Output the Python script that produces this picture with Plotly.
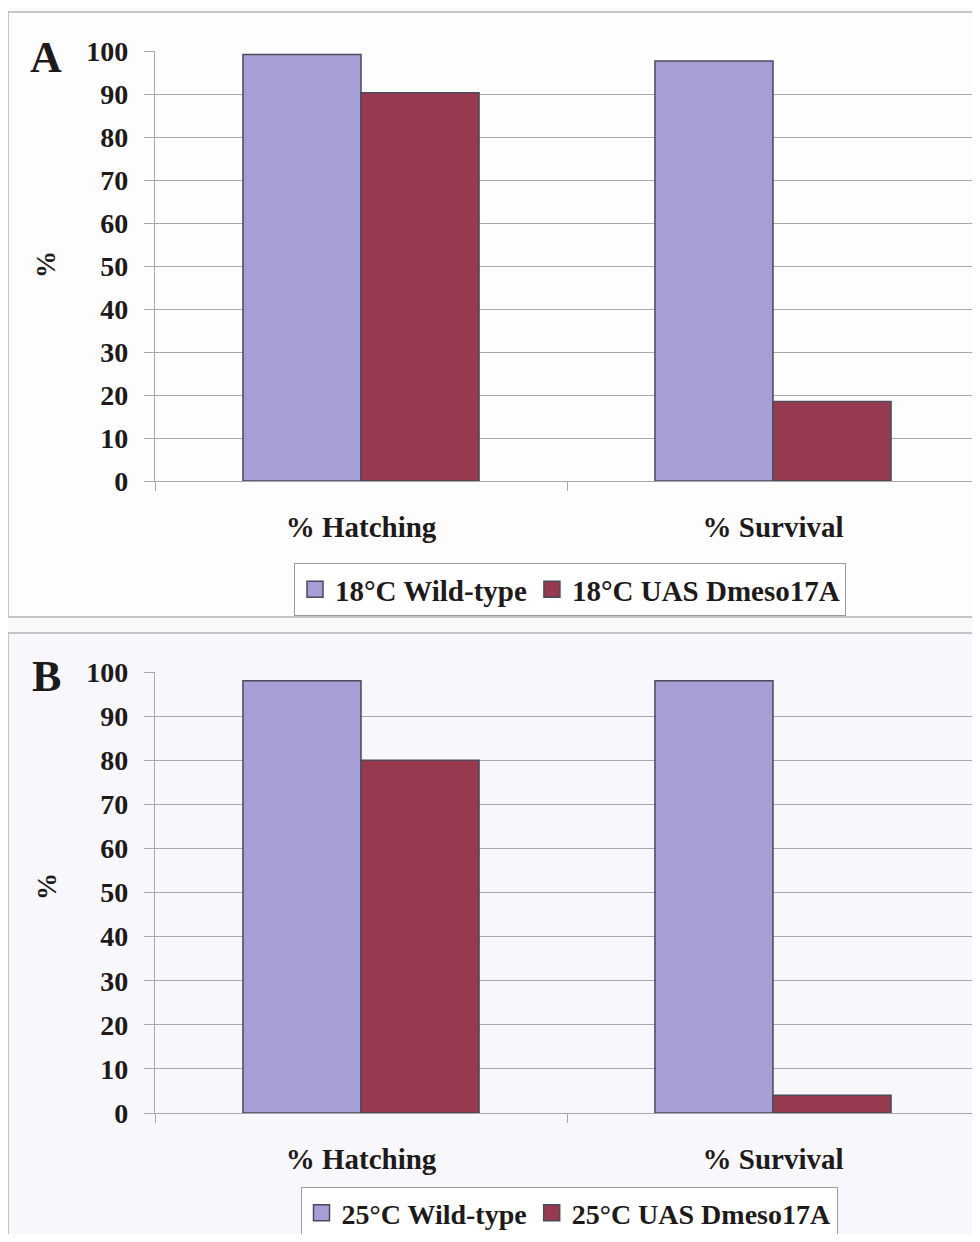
import plotly.graph_objects as go

# ---- data ----
categories = ["% Hatching", "% Survival"]
wt_18 = [99.2, 97.7]
uas_18 = [90.3, 18.5]
wt_25 = [98.0, 98.0]
uas_25 = [80.0, 4.0]
y_ticks = list(range(0, 101, 10))
names_A = ["18°C Wild-type", "18°C UAS Dmeso17A"]
names_B = ["25°C Wild-type", "25°C UAS Dmeso17A"]

# page body has an 8px default margin; figure sized so the page fits 980x1242
OFF = 8
W, H = 972, 1226


def px(x):
    return (x - OFF) / W


def py(y):
    return 1 - (y - OFF) / H


WT_COLOR = "#a69fd6"
UAS_COLOR = "#983a4f"
EDGE = "#4a4a5c"
GRID = "#a8a8a8"
FONT = "Liberation Serif"
TXT = "#1e1a1a"

fig = go.Figure()
fig.add_bar(x=categories, y=wt_18, name=names_A[0], xaxis="x", yaxis="y", showlegend=False,
            marker=dict(color=WT_COLOR, line=dict(color=EDGE, width=1.5)))
fig.add_bar(x=categories, y=uas_18, name=names_A[1], xaxis="x", yaxis="y", showlegend=False,
            marker=dict(color=UAS_COLOR, line=dict(color=EDGE, width=1.5)))
fig.add_bar(x=categories, y=wt_25, name=names_B[0], xaxis="x2", yaxis="y2", showlegend=False,
            marker=dict(color=WT_COLOR, line=dict(color=EDGE, width=1.5)))
fig.add_bar(x=categories, y=uas_25, name=names_B[1], xaxis="x2", yaxis="y2", showlegend=False,
            marker=dict(color=UAS_COLOR, line=dict(color=EDGE, width=1.5)))

# legend entries (square swatches like the original)
for nm, col, lg, xa, ya in [
    (names_A[0], WT_COLOR, "legend", "x", "y"),
    (names_A[1], UAS_COLOR, "legend", "x", "y"),
    (names_B[0], WT_COLOR, "legend2", "x2", "y2"),
    (names_B[1], UAS_COLOR, "legend2", "x2", "y2"),
]:
    fig.add_scatter(x=[None], y=[None], mode="markers", name=nm, legend=lg,
                    xaxis=xa, yaxis=ya,
                    marker=dict(symbol="square", size=16, color=col,
                                line=dict(color=EDGE, width=1.5)))

xax = dict(
    type="category", categoryorder="array", categoryarray=categories,
    tickson="boundaries", ticks="outside", ticklen=9, tickcolor=GRID,
    showline=True, linecolor=GRID, linewidth=1.2, showgrid=False,
    tickfont=dict(family=FONT, size=29, color=TXT, weight="bold"),
    ticklabelstandoff=20, range=[-0.5, 1.5], fixedrange=True, automargin=False,
)
yax = dict(
    range=[0, 100], tickvals=y_ticks, ticks="outside", ticklen=10, tickcolor=GRID,
    showline=True, linecolor=GRID, linewidth=1.2,
    showgrid=True, gridcolor=GRID, gridwidth=1, zeroline=False,
    tickfont=dict(family=FONT, size=28, color=TXT, weight="bold"),
    ticklabelstandoff=10, automargin=False,
)

legend_common = dict(
    orientation="h", xanchor="center", yanchor="top", xref="container", yref="container",
    bgcolor="#ffffff", bordercolor="#9a9a9a", borderwidth=1,
    itemsizing="trace", tracegroupgap=0, itemwidth=30,
)

fig.update_layout(
    width=W, height=H, margin=dict(l=0, r=0, t=0, b=0, autoexpand=False),
    paper_bgcolor="#f9f9fb", plot_bgcolor="rgba(0,0,0,0)",
    barmode="group", bargap=0.427, bargroupgap=0,
    xaxis=dict(domain=[px(155), px(979)], anchor="y", **xax),
    yaxis=dict(domain=[py(481), py(51)], anchor="x", **yax),
    xaxis2=dict(domain=[px(155), px(979)], anchor="y2", **xax),
    yaxis2=dict(domain=[py(1113), py(672)], anchor="x2", **yax),
    legend=dict(x=px(570), y=py(563),
                font=dict(family=FONT, size=29, color=TXT, weight="bold"), **legend_common),
    legend2=dict(x=px(569), y=py(1187),
                 font=dict(family=FONT, size=28, color=TXT, weight="bold"), **legend_common),
    shapes=[
        dict(type="rect", xref="paper", yref="paper", layer="below",
             x0=px(8), x1=px(1000), y0=py(617), y1=py(12),
             line=dict(color="#b4b4b8", width=1.5), fillcolor="#fdfdfe"),
        dict(type="rect", xref="paper", yref="paper", layer="below",
             x0=px(8), x1=px(1000), y0=py(1280), y1=py(633),
             line=dict(color="#b4b4b8", width=1.5), fillcolor="#f7f7fc"),
    ],
    annotations=[
        dict(text="A", x=px(46), y=py(57), xref="paper", yref="paper", showarrow=False,
             xanchor="center", yanchor="middle",
             font=dict(family=FONT, size=44, color=TXT, weight="bold")),
        dict(text="B", x=px(46), y=py(676), xref="paper", yref="paper", showarrow=False,
             xanchor="center", yanchor="middle",
             font=dict(family=FONT, size=44, color=TXT, weight="bold")),
        dict(text="%", x=px(46), y=py(265), xref="paper", yref="paper", showarrow=False,
             textangle=-90, xanchor="center", yanchor="middle",
             font=dict(family=FONT, size=27, color=TXT, weight="bold")),
        dict(text="%", x=px(47), y=py(887), xref="paper", yref="paper", showarrow=False,
             textangle=-90, xanchor="center", yanchor="middle",
             font=dict(family=FONT, size=27, color=TXT, weight="bold")),
    ],
)

fig.write_html("out.html")
